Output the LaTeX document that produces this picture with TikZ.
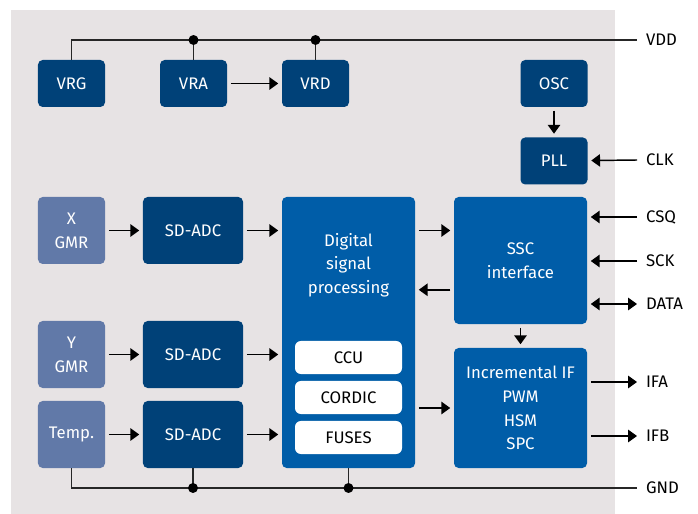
\documentclass[tikz,border=0pt]{standalone}
\usepackage{fontspec}
\setmainfont{Fira Sans}
\usetikzlibrary{arrows.meta,positioning}
\definecolor{ChipGrey}{RGB}{231,227,228}
\definecolor{DarkBlue}{RGB}{0,65,120}
\definecolor{MidBlue}{RGB}{0,93,168}
\definecolor{SensorBlue}{RGB}{97,121,168}

\begin{document}
\begin{tikzpicture}[x=0.03cm,y=-0.03cm,
    blk/.style={fill=DarkBlue,rounded corners=4pt,text=white,align=center,inner sep=0pt,font=\fontsize{14.3}{20.2}\selectfont},
    regbox/.style={blk,minimum width=2.01cm,minimum height=1.41cm},
    sensbox/.style={blk,fill=SensorBlue,minimum width=2.01cm,minimum height=2.01cm},
    adcbox/.style={blk,minimum width=3.0cm,minimum height=2.01cm},
    bigbox/.style={blk,fill=MidBlue,minimum width=3.99cm},
    subbox/.style={blk,fill=white,text=black,rounded corners=5pt,minimum width=3.21cm,minimum height=0.99cm},
    pinlbl/.style={anchor=west,inner xsep=7.5pt,inner ysep=0pt,font=\fontsize{14.3}{17}\selectfont},
    arr/.style={-{Triangle[length=7.5pt,width=10.5pt]},line width=1.25pt,shorten <=3pt,shorten >=3pt},
    wire/.style={line width=1.25pt,black!85},
    dot/.style={circle,fill=black,inner sep=0pt,minimum size=8.5pt}]
    \useasboundingbox (0,0) rectangle (698,514);
    \fill[ChipGrey] (11,10) rectangle (615,514);

    % supply regulators and clock
    \node[regbox] (vrg) at (71.5,83.5) {VRG};
    \node[regbox] (vra) at (193.5,83.5) {VRA};
    \node[regbox] (vrd) at (315.5,83.5) {VRD};
    \node[regbox] (osc) at (554,83.5) {OSC};
    \node[regbox,below=0.9cm of osc.south,anchor=north] (pll) {PLL};

    % sensor paths
    \node[sensbox] (xgmr) at (71.5,230.5) {X\\GMR};
    \node[sensbox] (ygmr) at (71.5,354.5) {Y\\GMR};
    \node[sensbox] (temp) at (71.5,434.5) {Temp.};
    \node[adcbox] (adc1) at (193,230.5) {SD-ADC};
    \node[adcbox] (adc2) at (193,354.5) {SD-ADC};
    \node[adcbox] (adc3) at (193,434.5) {SD-ADC};

    % digital core
    \node[bigbox,minimum height=8.13cm] (dsp) at (348.5,332.5) {};
    \node[blk,fill=none] (dsptxt) at (348.5,265) {Digital\\signal\\processing};
    \node[subbox] (ccu) at (348.5,357.5) {CCU};
    \node[subbox] (cordic) at (348.5,397.5) {CORDIC};
    \node[subbox] (fuses) at (348.5,437.5) {FUSES};
    \node[bigbox,minimum height=3.81cm] (ssc) at (520.5,260.5) {SSC\\interface};
    \node[bigbox,minimum height=3.6cm] (incif) at (520.5,408) {Incremental IF\\PWM\\HSM\\SPC};

    % pins
    \node[pinlbl] (vdd) at (637,40) {VDD};
    \node[pinlbl] (clk) at (637,160) {CLK};
    \node[pinlbl] (csq) at (637,217) {CSQ};
    \node[pinlbl] (sck) at (637,261) {SCK};
    \node[pinlbl] (data) at (637,304) {DATA};
    \node[pinlbl] (ifa) at (637,382) {IFA};
    \node[pinlbl] (ifb) at (637,436) {IFB};
    \node[pinlbl] (gnd) at (637,488) {GND};

    % supply rails
    \draw[wire] (vrg.north) |- (vdd.west);
    \draw[wire] (vra.north) -- (vra.north |- vdd.west) node[dot] {};
    \draw[wire] (vrd.north) -- (vrd.north |- vdd.west) node[dot] {};
    \draw[wire] (temp.south) |- (gnd.west);
    \draw[wire] (adc3.south) -- (adc3.south |- gnd.west) node[dot] {};
    \draw[wire] (dsp.south) -- (dsp.south |- gnd.west) node[dot] {};

    % signal flow
    \draw[arr] (vra) -- (vrd);
    \draw[arr] (osc) -- (pll);
    \draw[arr,shorten <=0pt] (clk.west) -- (pll);
    \draw[arr] (xgmr) -- (adc1);
    \draw[arr] (ygmr) -- (adc2);
    \draw[arr] (temp) -- (adc3);
    \draw[arr] (adc1) -- (dsp.west |- adc1);
    \draw[arr] (adc2) -- (dsp.west |- adc2);
    \draw[arr] (adc3) -- (dsp.west |- adc3);
    \draw[arr] (dsp.east |- adc1) -- (ssc.west |- adc1);
    \draw[arr] ([yshift=-25pt]ssc.west) -- ([yshift=-25pt]ssc.west -| dsp.east);
    \draw[arr] (dsp.east |- incif) -- (incif);
    \draw[arr] (ssc) -- (incif);
    \draw[arr,shorten <=0pt] (csq.west) -- (csq.west -| ssc.east);
    \draw[arr,shorten <=0pt] (sck.west) -- (sck.west -| ssc.east);
    \draw[arr,{Triangle[length=7.5pt,width=10.5pt]}-{Triangle[length=7.5pt,width=10.5pt]},shorten >=0pt] (data.west -| ssc.east) -- (data.west);
    \draw[arr,shorten >=0pt] (ifa.west -| incif.east) -- (ifa.west);
    \draw[arr,shorten >=0pt] (ifb.west -| incif.east) -- (ifb.west);
\end{tikzpicture}
\end{document}
